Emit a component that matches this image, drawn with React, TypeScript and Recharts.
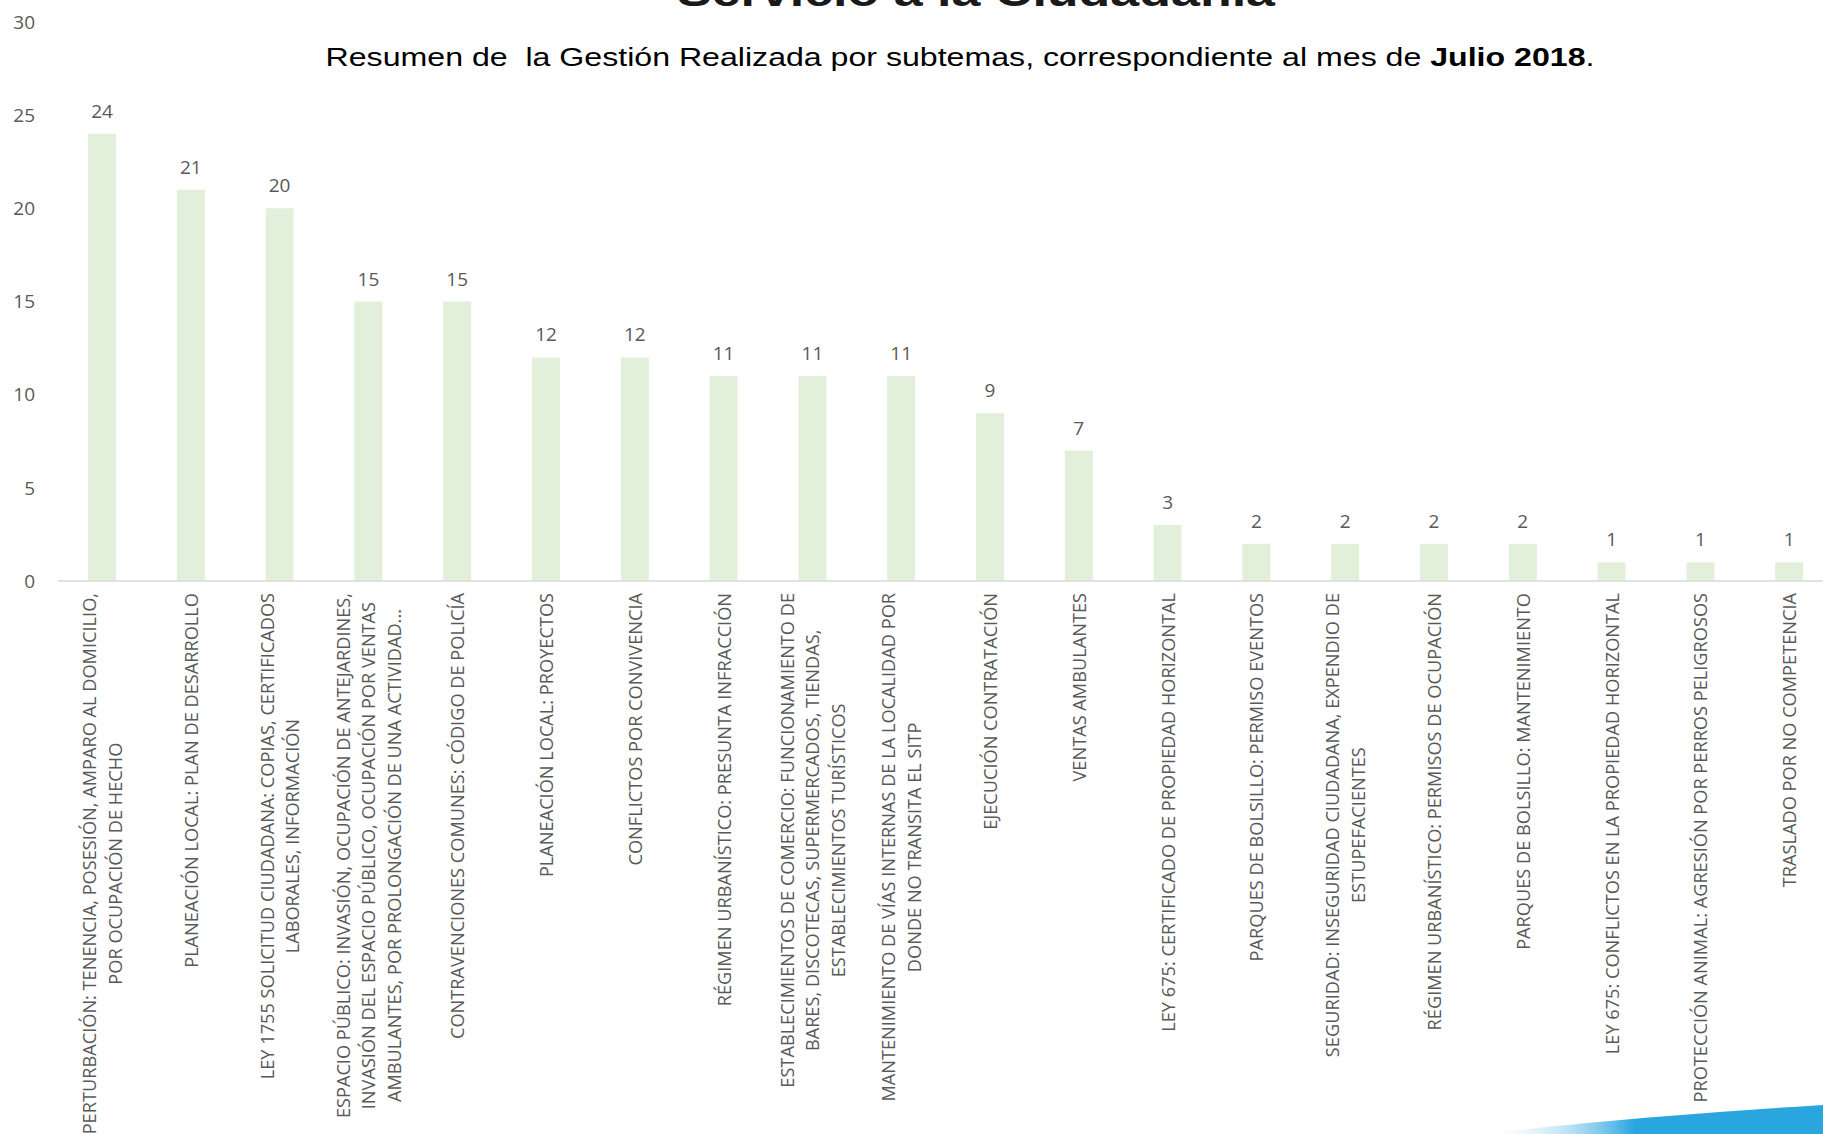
import React from 'react';
import { BarChart, Bar, XAxis, YAxis, LabelList } from 'recharts';

// subtemas (line breaks as in the original axis labels)
const categories = [
  'PERTURBACIÓN: TENENCIA, POSESIÓN, AMPARO AL DOMICILIO,\nPOR OCUPACIÓN DE HECHO',
  'PLANEACIÓN LOCAL: PLAN DE DESARROLLO',
  'LEY 1755 SOLICITUD CIUDADANA: COPIAS, CERTIFICADOS\nLABORALES, INFORMACIÓN',
  'ESPACIO PÚBLICO: INVASIÓN, OCUPACIÓN DE ANTEJARDINES,\nINVASIÓN DEL ESPACIO PÚBLICO, OCUPACIÓN POR VENTAS\nAMBULANTES, POR PROLONGACIÓN DE UNA ACTIVIDAD...',
  'CONTRAVENCIONES COMUNES: CÓDIGO DE POLICÍA',
  'PLANEACIÓN LOCAL: PROYECTOS',
  'CONFLICTOS POR CONVIVENCIA',
  'RÉGIMEN URBANÍSTICO: PRESUNTA INFRACCIÓN',
  'ESTABLECIMIENTOS DE COMERCIO: FUNCIONAMIENTO DE\nBARES, DISCOTECAS, SUPERMERCADOS, TIENDAS,\nESTABLECIMIENTOS TURÍSTICOS',
  'MANTENIMIENTO DE VÍAS INTERNAS DE LA LOCALIDAD POR\nDONDE NO TRANSITA EL SITP',
  'EJECUCIÓN CONTRATACIÓN',
  'VENTAS AMBULANTES',
  'LEY 675: CERTIFICADO DE PROPIEDAD HORIZONTAL',
  'PARQUES DE BOLSILLO: PERMISO EVENTOS',
  'SEGURIDAD: INSEGURIDAD CIUDADANA, EXPENDIO DE\nESTUPEFACIENTES',
  'RÉGIMEN URBANÍSTICO: PERMISOS DE OCUPACIÓN',
  'PARQUES DE BOLSILLO: MANTENIMIENTO',
  'LEY 675: CONFLICTOS EN LA PROPIEDAD HORIZONTAL',
  'PROTECCIÓN ANIMAL: AGRESIÓN POR PERROS PELIGROSOS',
  'TRASLADO POR NO COMPETENCIA',
];

const values = [24, 21, 20, 15, 15, 12, 12, 11, 11, 11, 9, 7, 3, 2, 2, 2, 2, 1, 1, 1];

const yTicks = [0, 5, 10, 15, 20, 25, 30];

const data = categories.map((name, i) => ({ name, value: values[i] }));

const GRAY = '#595959';
const FONT = '"Open Sans", sans-serif';
const CAT_SIZE = 18.2;
const LINE_H = 25.5;

let ctx: CanvasRenderingContext2D | null = null;
const measure = (s: string) => {
  if (!ctx) ctx = document.createElement('canvas').getContext('2d');
  if (!ctx) return s.length * 10.4;
  ctx.font = `${CAT_SIZE}px "Open Sans"`;
  return ctx.measureText(s).width;
};

// rotated, multi-line category label; lines centred on each other, block hangs from the axis
const CategoryTick = ({ x, y, payload }: any) => {
  const lines = String(payload.value).split('\n');
  const maxW = Math.max(...lines.map(measure));
  const n = lines.length;
  return (
    <g transform={`translate(${x},${y}) rotate(-90)`}>
      {lines.map((ln, i) => (
        <text
          key={i}
          x={-maxW / 2}
          y={(i - (n - 1) / 2) * LINE_H + 6.5}
          textAnchor="middle"
          fill={GRAY}
          fontSize={CAT_SIZE}
          fontFamily={FONT}
        >
          {ln}
        </text>
      ))}
    </g>
  );
};

export default function App() {
  return (
    <div
      style={{
        position: 'fixed',
        left: 0,
        top: 0,
        width: 1823,
        height: 1134,
        overflow: 'hidden',
        background: '#fff',
      }}
    >
      <BarChart
        width={1834}
        height={1134}
        data={data}
        margin={{ top: 22, right: 0, bottom: 0, left: 0 }}
        barCategoryGap={0}
      >
        <XAxis
          dataKey="name"
          interval={0}
          height={553}
          tickLine={false}
          tickSize={0}
          tickMargin={12}
          axisLine={{ stroke: '#D9D9D9', strokeWidth: 1.5 }}
          tick={<CategoryTick />}
        />
        <YAxis
          width={58}
          domain={[0, 30]}
          ticks={yTicks}
          axisLine={false}
          tickLine={false}
          tickSize={0}
          tickMargin={23}
          tick={{ fill: GRAY, fontSize: 19, fontFamily: FONT }}
        />
        <Bar dataKey="value" fill="#E2EFDA" barSize={28} isAnimationActive={false}>
          <LabelList
            dataKey="value"
            position="top"
            offset={16}
            fill={GRAY}
            fontSize={19}
            fontFamily={FONT}
          />
        </Bar>
      </BarChart>

      <svg
        width={1823}
        height={1134}
        style={{ position: 'absolute', left: 0, top: 0, pointerEvents: 'none' }}
      >
        <defs>
          <linearGradient id="swoosh" x1="1480" y1="0" x2="1823" y2="0" gradientUnits="userSpaceOnUse">
            <stop offset="0" stopColor="#ffffff" stopOpacity={0} />
            <stop offset="0.45" stopColor="#2AA6DF" />
            <stop offset="1" stopColor="#2AA6DF" />
          </linearGradient>
        </defs>
        <text
          transform="translate(976,6) scale(1.3,1)"
          textAnchor="middle"
          fontFamily='"Liberation Sans", Arial, sans-serif'
          fontWeight="bold"
          fontSize={40}
          fill="#1a1a1a"
        >
          Servicio a la Ciudadanía
        </text>
        <text
          transform="translate(960,66) scale(1.285,1)"
          textAnchor="middle"
          fontFamily='"Liberation Sans", Arial, sans-serif'
          fontSize={25}
          fill="#000"
          style={{ whiteSpace: 'pre' }}
        >
          {'Resumen de  la Gestión Realizada por subtemas, correspondiente al mes de '}
          <tspan fontWeight="bold">Julio 2018</tspan>
          {'.'}
        </text>
        <path d="M1480,1134 Q1640,1116 1823,1105 L1823,1134 Z" fill="url(#swoosh)" />
      </svg>
    </div>
  );
}
